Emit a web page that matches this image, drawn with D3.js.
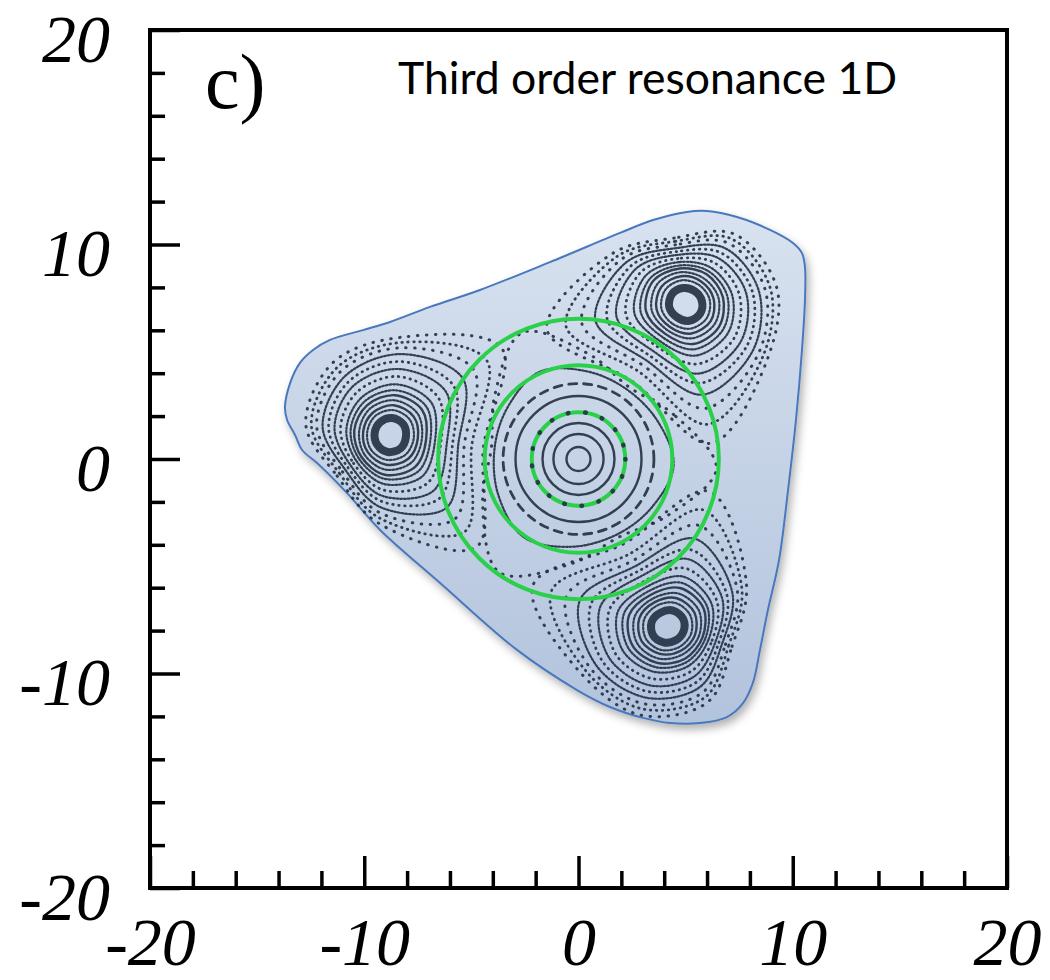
<!DOCTYPE html>
<html lang="en">
<head>
<meta charset="utf-8">
<title>third order resonance</title>
<script src="https://cdn.jsdelivr.net/npm/d3@7"></script>
<style>
body { margin: 0; background: #fff; }
</style>
</head>
<body>
<div id="chart"></div>
<script>

var majorTicks = [-20, -10, 0, 10, 20]
var minorTicks = [-18, -16, -14, -12, -8, -6, -4, -2, 2, 4, 6, 8, 12, 14, 16, 18]

// shaded region outline (data units)
var regionX = [10.57, 10.43, 10.15, 9.78, 9.36, 8.84, 8.47, 8.14, 7.68, 6.93, 5.67, 4.27, 3.01, 1.47, -0.07, -2.87, -6.46, -9.26, -10.80, -12.20, -12.90, -13.23, -13.60, -13.70, -13.46, -13.00, -12.39, -11.60, -10.06, -8.80, -6.93, -4.60, -1.33, 1.94, 3.48, 5.06, 6.00, 7.40, 8.94, 10.01, 10.43, 10.57]
var regionY = [7.41, 5.08, 1.82, -1.45, -4.71, -7.04, -8.90, -10.44, -11.38, -12.03, -12.31, -12.31, -12.07, -11.56, -10.77, -8.90, -5.78, -3.31, -1.59, -0.19, 0.42, 1.12, 1.82, 2.42, 3.54, 4.48, 5.08, 5.55, 6.01, 6.39, 7.09, 7.88, 9.18, 10.54, 11.14, 11.52, 11.56, 11.28, 10.68, 10.07, 9.60, 8.95]

var greenRadii = [6.55, 4.38, 2.18]

// circular orbits round the origin
var ringRadii = [0.56, 1.17, 1.68, 2.94, 3.52]
var ringKinds = ["solid", "solid", "solid", "solid", "dash"]
var dotRingRadius = 2.19

// triangular orbits round the origin: radius at each angle (deg)
var centralAngles = [-4, 25, 55, 84, 114, 143, 172, 204, 235, 266, 298, 327]
var innerTriangle = [4.45, 4.10, 3.95, 4.10, 4.45, 4.10, 3.95, 4.10, 4.45, 4.10, 3.95, 4.10]
var separatrix = [6.45, 4.90, 4.10, 4.90, 6.45, 4.90, 4.10, 4.90, 6.45, 4.90, 4.10, 4.90]

// island centres
var islandX = [-8.80, 5.02, 4.18]
var islandY = [1.12, 7.23, -7.83]

// island orbits, radius at each local angle (0 = away from origin)
var templateAngles = [0, 45, 90, 135, 180, 225, 270, 315]
var islandOrbits = [
    [0.72, 0.75, 0.80, 0.80, 0.75, 0.80, 0.80, 0.75],
    [1.07, 1.12, 1.17, 1.17, 1.12, 1.17, 1.17, 1.12],
    [1.26, 1.31, 1.40, 1.40, 1.31, 1.40, 1.40, 1.31],
    [1.45, 1.50, 1.63, 1.63, 1.50, 1.63, 1.63, 1.54],
    [1.68, 1.68, 1.87, 1.90, 1.70, 1.90, 1.87, 1.75],
    [1.85, 1.82, 2.06, 2.15, 1.90, 2.15, 2.10, 1.96],
    [2.05, 1.98, 2.30, 2.45, 2.12, 2.45, 2.38, 2.19],
    [2.33, 2.15, 2.58, 2.85, 2.40, 2.85, 2.75, 2.52],
    [2.61, 2.32, 2.86, 3.30, 2.68, 3.30, 3.10, 2.85],
    [2.89, 2.48, 3.12, 3.75, 2.95, 3.75, 3.45, 3.15],
    [3.17, 2.64, 3.40, 4.30, 3.22, 4.30, 3.80, 3.45],
    [3.45, 2.80, 3.66, 4.95, 3.50, 4.95, 4.10, 3.75],
    [3.70, 2.96, 3.90, 5.70, 3.85, 5.70, 4.35, 4.00],
    [3.96, 3.12, 4.15, 6.60, 4.40, 6.60, 4.60, 4.30]
]
var islandKinds = ["core", "dense", "solid", "dense", "solid", "dense", "dense", "dots", "dense", "dots", "dense", "sparse", "dots", "sparse"]

var inkColor = "#263244"
var kindStyle = {
    core:   {w: 8,   dash: null},
    solid:  {w: 2.4, dash: null},
    dense:  {w: 2.2, dash: "1.8 1.9"},
    dots:   {w: 2.8, dash: "0.5 5.5"},
    sparse: {w: 3,   dash: "0.5 8.5"},
    dash:   {w: 2.8, dash: "8 7"},
    bigdots:{w: 4.6, dash: "0.5 17"}
}

var svg = d3.select("#chart")
    .append("svg")
    .attr("width", 1050)
    .attr("height", 980)

var x = d3.scaleLinear().domain([-20, 20]).range([150, 1007])
var y = d3.scaleLinear().domain([-20, 20]).range([888, 30])

var defs = svg.append("defs")
var grad = defs.append("linearGradient")
    .attr("id", "regionFill")
    .attr("x1", 0).attr("y1", 0).attr("x2", 0).attr("y2", 1)
grad.append("stop").attr("offset", 0).attr("stop-color", "#d8e2f0")
grad.append("stop").attr("offset", 1).attr("stop-color", "#b2c3dc")

defs.append("filter")
    .attr("id", "shadow")
    .attr("x", -0.1).attr("y", -0.1).attr("width", 1.2).attr("height", 1.2)
    .append("feDropShadow")
    .attr("dx", 3).attr("dy", 5)
    .attr("stdDeviation", 4)
    .attr("flood-color", "#000")
    .attr("flood-opacity", 0.3)

var closedLine = d3.line()
    .x(function(d){ return x(d[0]) })
    .y(function(d){ return y(d[1]) })
    .curve(d3.curveCatmullRomClosed.alpha(0.5))

var regionPts = regionX.map(function(v, i){ return [v, regionY[i]] })

svg.append("path")
    .attr("d", closedLine(regionPts))
    .attr("fill", "url(#regionFill)")
    .attr("stroke", "#4a78be")
    .attr("stroke-width", 2)
    .attr("filter", "url(#shadow)")

function styleOrbit(sel, kind){
    var s = kindStyle[kind]
    sel.attr("fill", "none")
        .attr("stroke", inkColor)
        .attr("stroke-width", s.w)
        .attr("stroke-linecap", s.dash ? "round" : "butt")
        .attr("stroke-dasharray", s.dash)
        .attr("opacity", 0.92)
}

// islands
var orbitLayer = svg.append("g")
islandX.forEach(function(cx, k){
    var cy = islandY[k]
    var phi = Math.atan2(cy, cx)
    islandOrbits.forEach(function(radii, j){
        var pts = radii.map(function(r, i){
            var a = templateAngles[i] * Math.PI / 180
            var u = r * Math.cos(a), v = r * Math.sin(a)
            return [cx + u * Math.cos(phi) - v * Math.sin(phi),
                    cy + u * Math.sin(phi) + v * Math.cos(phi)]
        })
        orbitLayer.append("path")
            .attr("d", closedLine(pts))
            .call(styleOrbit, islandKinds[j])
    })
})

// central orbits
function polarPts(radii){
    return radii.map(function(r, i){
        var a = centralAngles[i] * Math.PI / 180
        return [r * Math.cos(a), r * Math.sin(a)]
    })
}
orbitLayer.append("path").attr("d", closedLine(polarPts(separatrix))).call(styleOrbit, "sparse")
orbitLayer.append("path").attr("d", closedLine(polarPts(innerTriangle))).call(styleOrbit, "dense")

orbitLayer.selectAll(".ring")
    .data(ringRadii)
    .enter()
    .append("circle")
    .attr("class", "ring")
    .attr("cx", x(0))
    .attr("cy", y(0))
    .attr("r", function(d){ return x(d) - x(0) })
    .each(function(d, i){ d3.select(this).call(styleOrbit, ringKinds[i]) })

svg.selectAll(".green")
    .data(greenRadii)
    .enter()
    .append("circle")
    .attr("class", "green")
    .attr("cx", x(0))
    .attr("cy", y(0))
    .attr("r", function(d){ return x(d) - x(0) })
    .attr("fill", "none")
    .attr("stroke", "#2bd04a")
    .attr("stroke-width", 4)

svg.append("circle")
    .attr("cx", x(0))
    .attr("cy", y(0))
    .attr("r", x(dotRingRadius) - x(0))
    .call(styleOrbit, "bigdots")

// frame and axes
svg.append("rect")
    .attr("x", x(-20)).attr("y", y(20))
    .attr("width", x(20) - x(-20))
    .attr("height", y(-20) - y(20))
    .attr("fill", "none")
    .attr("stroke", "#000")
    .attr("stroke-width", 4)

var fmt = function(d){ return String(d) }

var yMajor = svg.append("g")
    .attr("transform", "translate(" + x(-20) + ",0)")
    .call(d3.axisLeft(y).tickValues(majorTicks).tickSizeInner(-30).tickSizeOuter(0).tickPadding(40).tickFormat(fmt))
var yMinor = svg.append("g")
    .attr("transform", "translate(" + x(-20) + ",0)")
    .call(d3.axisLeft(y).tickValues(minorTicks).tickSizeInner(-15).tickSizeOuter(0).tickFormat(""))
var xMajor = svg.append("g")
    .attr("transform", "translate(0," + y(-20) + ")")
    .call(d3.axisBottom(x).tickValues(majorTicks).tickSizeInner(-32).tickSizeOuter(0).tickPadding(40).tickFormat(fmt))
var xMinor = svg.append("g")
    .attr("transform", "translate(0," + y(-20) + ")")
    .call(d3.axisBottom(x).tickValues(minorTicks).tickSizeInner(-17).tickSizeOuter(0).tickFormat(""))

svg.selectAll(".domain").remove()
svg.selectAll(".tick line").attr("stroke", "#000").attr("stroke-width", 3.5)
svg.selectAll(".tick text")
    .attr("fill", "#000")
    .style("font-family", "'Liberation Serif', 'Times New Roman', serif")
    .style("font-style", "italic")
    .style("font-size", "68px")
yMajor.selectAll(".tick text").attr("dy", 31)
xMajor.selectAll(".tick text").attr("y", 77).attr("dy", 0)

svg.append("text")
    .attr("x", 205)
    .attr("y", 108)
    .text("c)")
    .style("font-family", "'Liberation Serif', 'Times New Roman', serif")
    .style("font-size", "78px")

svg.append("text")
    .attr("x", 398)
    .attr("y", 94)
    .text("Third order resonance 1D")
    .style("font-family", "Lato, 'Open Sans', sans-serif")
    .style("font-size", "44.5px")

</script>
</body>
</html>
